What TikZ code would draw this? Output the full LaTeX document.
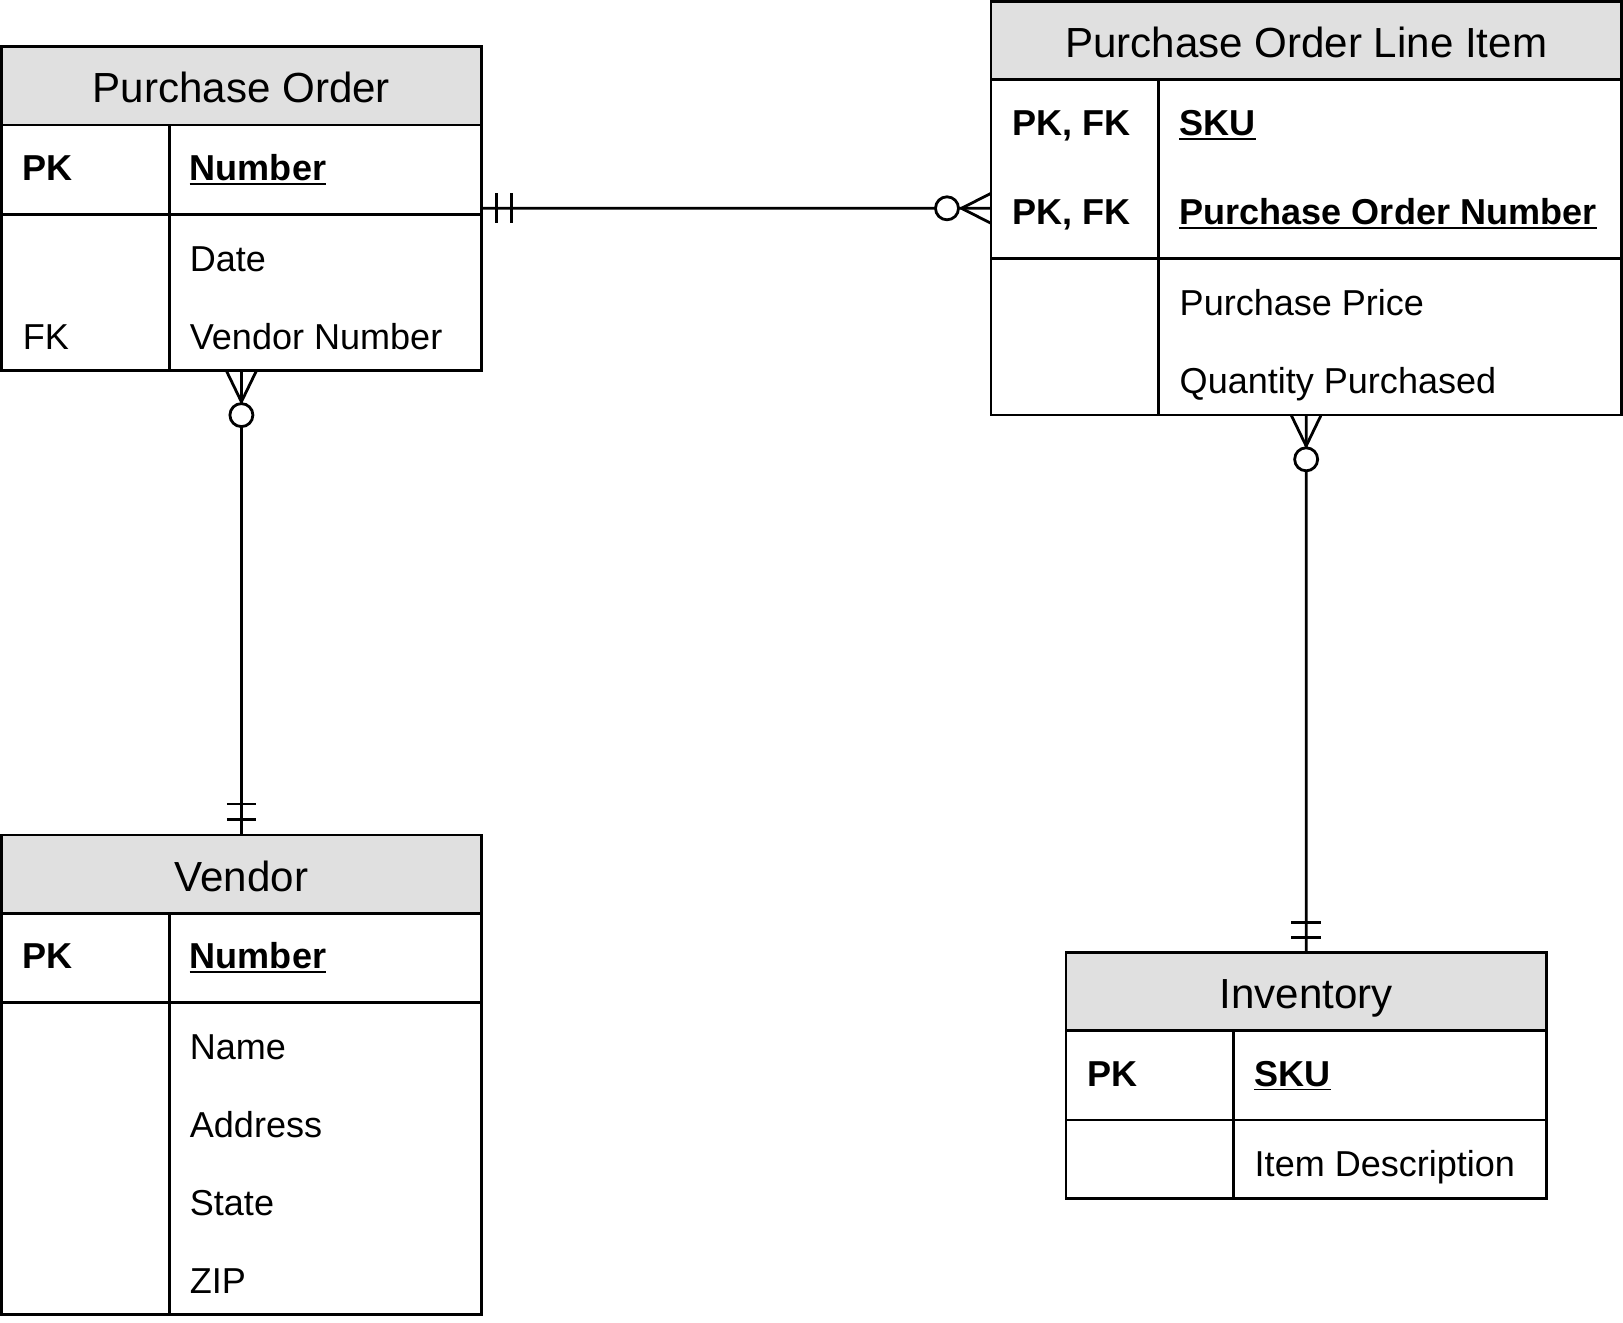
\documentclass[tikz,border=0pt]{standalone}
\usepackage{fontspec}
\setmainfont{Liberation Sans}
\usetikzlibrary{calc,fit}
\definecolor{hdr}{RGB}{224,224,224}
\newcommand\ertitlefont{\fontsize{21.05}{25}\selectfont}
\newcommand\erbodyfont{\fontsize{18.02}{21}\selectfont}
\begin{document}
\begin{tikzpicture}[x=0.5pt,y=-0.5pt,
  box/.style={draw, line width=1.4pt, inner sep=0pt, outer sep=0pt},
  hdrbox/.style={box, fill=hdr},
  ttl/.style={anchor=base, inner sep=0pt, font=\ertitlefont},
  keylbl/.style={anchor=base west, inner sep=0pt, font=\erbodyfont\bfseries},
  attr/.style={anchor=base west, inner sep=0pt, font=\erbodyfont},
  sepline/.style={line width=1.4pt},
  conn/.style={line width=1.4pt},
  uline/.style={line width=0.9pt}
]
\fill[white] (0,0) rectangle (1623,1323);
\useasboundingbox (0,0) rectangle (1623,1323);

% ---------------- Purchase Order ----------------
\node[hdrbox, fit={(1.5,46.6)(481.3,124.9)}] (poH) {};
\node[box, fit={(1.5,46.6)(481.3,370.8)}] (po) {};
\draw[sepline] (1.5,214.2) -- (481.3,214.2);
\draw[sepline] (169.5,124.9) -- (169.5,370.8);
\node[ttl] (poT) at (241.4,102.9) {Purchase Order};
\node[keylbl] (poK) at (22.5,180.5) {PK};
\node[keylbl] (poN) at (189.5,180.5) {Number};
\draw[uline] ([yshift=-1.6pt]poN.base west) -- ([yshift=-1.6pt]poN.base east);
\node[attr] (poD) at (189.5,271.1) {Date};
\node[attr] (poFK) at (22.5,349.4) {FK};
\node[attr] (poVN) at (189.5,349.4) {Vendor Number};

% ---------------- Vendor ----------------
\node[hdrbox, fit={(1.5,835)(481.3,913.3)}] (vH) {};
\node[box, fit={(1.5,835)(481.3,1314.6)}] (v) {};
\draw[sepline] (1.5,1002.6) -- (481.3,1002.6);
\draw[sepline] (169.5,913.3) -- (169.5,1314.6);
\node[ttl] (vT) at (241.4,891.3) {Vendor};
\node[keylbl] (vK) at (22.5,968.9) {PK};
\node[keylbl] (vN) at (189.5,968.9) {Number};
\draw[uline] ([yshift=-1.6pt]vN.base west) -- ([yshift=-1.6pt]vN.base east);
\node[attr] (vA1) at (189.5,1059.4) {Name};
\node[attr] (vA2) at (189.5,1137.4) {Address};
\node[attr] (vA3) at (189.5,1215.4) {State};
\node[attr] (vA4) at (189.5,1293.4) {ZIP};

% ---------------- Purchase Order Line Item ----------------
\node[hdrbox, fit={(991,1.5)(1621.3,79.8)}] (liH) {};
\node[box, fit={(991,1.5)(1621.3,415)}] (li) {};
\draw[sepline] (991,258.4) -- (1621.3,258.4);
\draw[sepline] (1158.8,79.8) -- (1158.8,415);
\node[ttl] (liT) at (1306.15,57.8) {Purchase Order Line Item};
\node[keylbl] (liK1) at (1012,135.4) {PK, FK};
\node[keylbl] (liN1) at (1179.3,135.4) {SKU};
\draw[uline] ([yshift=-1.6pt]liN1.base west) -- ([yshift=-1.6pt]liN1.base east);
\node[keylbl] (liK2) at (1012,224.7) {PK, FK};
\node[keylbl] (liN2) at (1179.3,224.7) {Purchase Order Number};
\draw[uline] ([yshift=-1.6pt]liN2.base west) -- ([yshift=-1.6pt]liN2.base east);
\node[attr] (liA1) at (1179.3,315.3) {Purchase Price};
\node[attr] (liA2) at (1179.3,393.6) {Quantity Purchased};

% ---------------- Inventory ----------------
\node[hdrbox, fit={(1066,952.3)(1546.5,1030.6)}] (invH) {};
\node[box, fit={(1066,952.3)(1546.5,1198.2)}] (inv) {};
\draw[sepline] (1066,1119.9) -- (1546.5,1119.9);
\draw[sepline] (1233.8,1030.6) -- (1233.8,1198.2);
\node[ttl] (invT) at (1306.25,1008.6) {Inventory};
\node[keylbl] (invK) at (1087,1086.2) {PK};
\node[keylbl] (invN) at (1254.3,1086.2) {SKU};
\draw[uline] ([yshift=-1.6pt]invN.base west) -- ([yshift=-1.6pt]invN.base east);
\node[attr] (invA) at (1254.3,1176.8) {Item Description};

% ---------------- Connectors ----------------
% Purchase Order (one) -- Line Item (zero or many)
\path (po.north east) ++(0,161.7) coordinate (a1);
\path (li.north west) ++(0,206.8) coordinate (b1);
\draw[conn] (a1) -- (b1);
\draw[conn] ($(a1)+(15.4,-15)$) -- ($(a1)+(15.4,15)$);
\draw[conn] ($(a1)+(30,-15)$) -- ($(a1)+(30,15)$);
\draw[conn] ($(b1)+(0,-15)$) -- ($(b1)+(-29.5,0)$) -- ($(b1)+(0,15)$);
\draw[conn, fill=white] ($(b1)+(-44,0)$) circle[radius=11.5];

% Purchase Order (zero or many) -- Vendor (one)
\coordinate (a2) at (po.south);
\coordinate (b2) at (v.north);
\draw[conn] (a2) -- (b2);
\draw[conn] ($(a2)+(-15,0)$) -- ($(a2)+(0,31)$) -- ($(a2)+(15,0)$);
\draw[conn, fill=white] ($(a2)+(0,44.3)$) circle[radius=11.5];
\draw[conn] ($(b2)+(-14.5,-31)$) -- ($(b2)+(14.5,-31)$);
\draw[conn] ($(b2)+(-14.5,-15.5)$) -- ($(b2)+(14.5,-15.5)$);

% Line Item (zero or many) -- Inventory (one)
\coordinate (a3) at (li.south);
\coordinate (b3) at (inv.north);
\draw[conn] (a3) -- (b3);
\draw[conn] ($(a3)+(-15,0)$) -- ($(a3)+(0,31)$) -- ($(a3)+(15,0)$);
\draw[conn, fill=white] ($(a3)+(0,44.3)$) circle[radius=11.5];
\draw[conn] ($(b3)+(-15,-30)$) -- ($(b3)+(15,-30)$);
\draw[conn] ($(b3)+(-15,-15)$) -- ($(b3)+(15,-15)$);
\end{tikzpicture}
\end{document}
